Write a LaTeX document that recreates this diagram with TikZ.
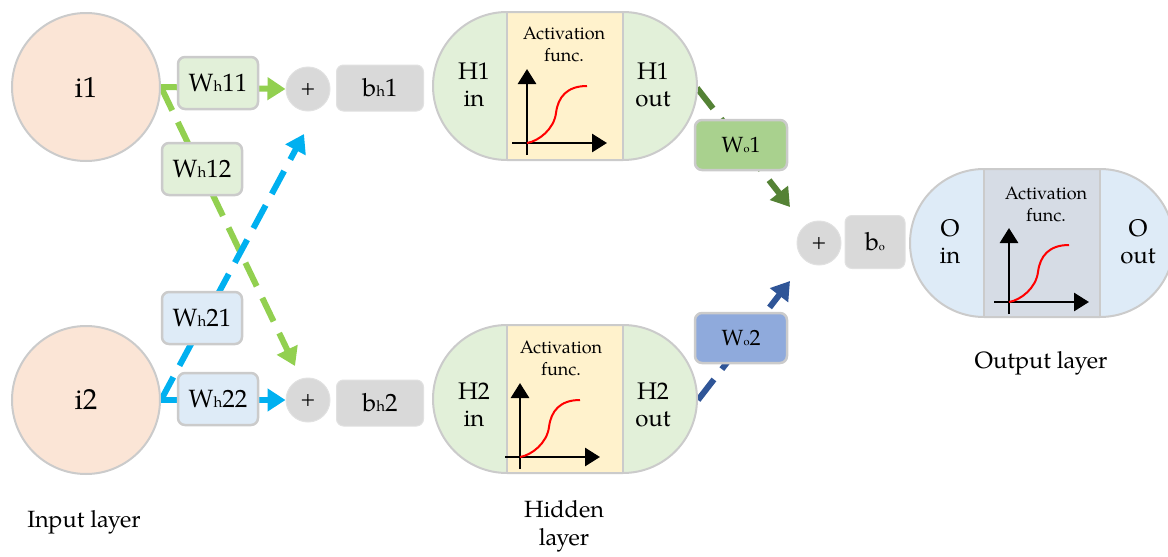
\documentclass[tikz,border=0pt]{standalone}
\usepackage{fontspec}
\setmainfont{TeX Gyre Pagella}
\usetikzlibrary{arrows.meta,calc}
\pgfdeclarelayer{bg}
\pgfsetlayers{bg,main}
\definecolor{peach}{HTML}{FBE5D6}
\definecolor{edge}{HTML}{CBCBCB}
\definecolor{lgreen}{HTML}{E2F0D9}
\definecolor{lblue}{HTML}{DEEBF7}
\definecolor{lgray}{HTML}{D9D9D9}
\definecolor{lyellow}{HTML}{FFF2CC}
\definecolor{bluegray}{HTML}{D6DCE5}
\definecolor{wogreen}{HTML}{A9D18E}
\definecolor{woblue}{HTML}{8FAADC}
\definecolor{agreen}{HTML}{92D050}
\definecolor{ablue}{HTML}{00B0F0}
\definecolor{dgreen}{HTML}{548235}
\definecolor{dblue}{HTML}{2F5597}
\newcommand{\lsub}[1]{{\fontsize{15}{15}\selectfont #1}}
\newcommand{\tsub}[1]{{\fontsize{11}{11}\selectfont #1}}
\newcommand{\mycaps}[6]{%
  \fill[#5, rounded corners=#4pt] (#1-#4,#3-#4) rectangle (#2+#4,#3+#4);
  \fill[#6] (#1,#3-#4) rectangle (#2,#3+#4);
  \draw[edge, line width=2pt] (#1,#3-#4) -- (#1,#3+#4) (#2,#3-#4) -- (#2,#3+#4);
  \draw[edge, line width=2pt, rounded corners=#4pt] (#1-#4,#3-#4) rectangle (#2+#4,#3+#4);
}
\newcommand{\actgraph}[2]{%
  \draw[axisl] (#1,#2+12) -- (#1,#2-74);
  \draw[axisl] (#1-15,#2) -- (#1+80,#2);
  \draw[sigl] (#1,#2) .. controls (#1+12,#2-2) and (#1+27,#2-14) .. (#1+29,#2-30)
     .. controls (#1+31,#2-46) and (#1+40,#2-57) .. (#1+60,#2-57);
}
\begin{document}
\begin{tikzpicture}[x=1pt,y=-1pt,
  inode/.style={circle, draw=edge, line width=2pt, fill=peach, minimum size=148pt, inner sep=0pt, font=\fontsize{29}{30}\selectfont},
  wbox/.style={rectangle, rounded corners=7pt, draw=edge, line width=2.5pt, minimum width=80pt, minimum height=52pt, inner sep=0pt, font=\fontsize{25}{26}\selectfont},
  wobox/.style={wbox, minimum width=92pt, minimum height=50pt, font=\fontsize{22}{24}\selectfont},
  sumnode/.style={circle, fill=lgray, draw=lgray!80!white, line width=1pt, minimum size=44pt, inner sep=0pt, font=\fontsize{20}{20}\selectfont},
  bbox/.style={rectangle, rounded corners=7pt, fill=lgray, draw=lgray!80!white, line width=1pt, minimum width=87pt, minimum height=46pt, inner sep=0pt, font=\fontsize{25}{26}\selectfont},
  conn/.style={line width=6pt, -{Triangle[length=18pt,width=22pt]}},
  dashA/.style={dash pattern=on 26pt off 13pt},
  axisl/.style={line width=2.8pt, black, -{Triangle[length=15pt,width=18pt]}},
  sigl/.style={red, line width=2pt},
  txt/.style={font=\fontsize{24}{27}\selectfont, align=center},
  act/.style={font=\fontsize{18}{22}\selectfont, align=center},
  lay/.style={font=\fontsize{23.5}{28}\selectfont, align=center}
]
\useasboundingbox (0,0) rectangle (1168,557);

% capsules
\mycaps{507}{623}{86}{74}{lgreen}{lyellow}
\mycaps{507}{623}{399}{74}{lgreen}{lyellow}
\mycaps{984}{1100}{243}{74}{lblue}{bluegray}
\actgraph{527}{143}
\actgraph{520}{457}
\actgraph{1009}{302}
\node[act] (a1) at (564,44) {Activation\\func.};
\node[act] (a2) at (561,358) {Activation\\func.};
\node[act] (a3) at (1046,204) {Activation\\func.};
\node[txt] (H1in) at (474,85) {H1\\in};
\node[txt] (H1out) at (653,85) {H1\\out};
\node[txt] (H2in) at (474,405) {H2\\in};
\node[txt] (H2out) at (653,405) {H2\\out};
\node[txt] (Oin) at (950,242) {O\\in};
\node[txt] (Oout) at (1138,242) {O\\out};
\coordinate (h1r) at (697,88);
\coordinate (h2r) at (698,400);

% input nodes
\node[inode] (i1) at (86,87) {i1};
\node[inode] (i2) at (86,400) {i2};

% sums and biases
\node[sumnode] (p1) at (308,89) {+};
\node[sumnode] (p2) at (308,400) {+};
\node[sumnode] (p3) at (819,243) {+};
\node[bbox] (b1) at (380,88) {b\lsub{h}1};
\node[bbox] (b2) at (380,403) {b\lsub{h}2};
\node[bbox, minimum width=60pt, minimum height=53pt] (bo) at (875,242) {b\tsub{o}};

\coordinate (t1) at (304,134);
\coordinate (t2) at (295,366);
\coordinate (t3) at (790,207);
\coordinate (t4) at (790,281);

% weight boxes
\node[wbox, fill=lgreen] (w11) at (218,83) {W\lsub{h}11};
\node[wbox, fill=lgreen] (w12) at (202,169) {W\lsub{h}12};
\node[wbox, fill=lblue] (w21) at (202,318) {W\lsub{h}21};
\node[wbox, fill=lblue] (w22) at (218,399) {W\lsub{h}22};
\node[wobox, fill=wogreen] (wo1) at (741,145) {W\tsub{o}1};
\node[wobox, fill=woblue] (wo2) at (741,338) {W\tsub{o}2};

% connectors
\begin{pgfonlayer}{bg}
\draw[conn, agreen] (i1.east) -- (p1.west);
\draw[conn, agreen, dashA] (i1.east) -- (t2);
\draw[conn, ablue, dashA] (i2.east) -- (t1);
\draw[conn, ablue] (i2.east) -- (p2.west);
\draw[conn, dgreen, dashA] (h1r) -- (t3);
\draw[conn, dblue, dashA] (h2r) -- (t4);
\end{pgfonlayer}

% layer labels
\node[lay] (lin) at (84,522) {Input layer};
\node[lay] (lhid) at (564,526) {Hidden\\layer};
\node[lay] (lout) at (1041,363) {Output layer};
\end{tikzpicture}
\end{document}
